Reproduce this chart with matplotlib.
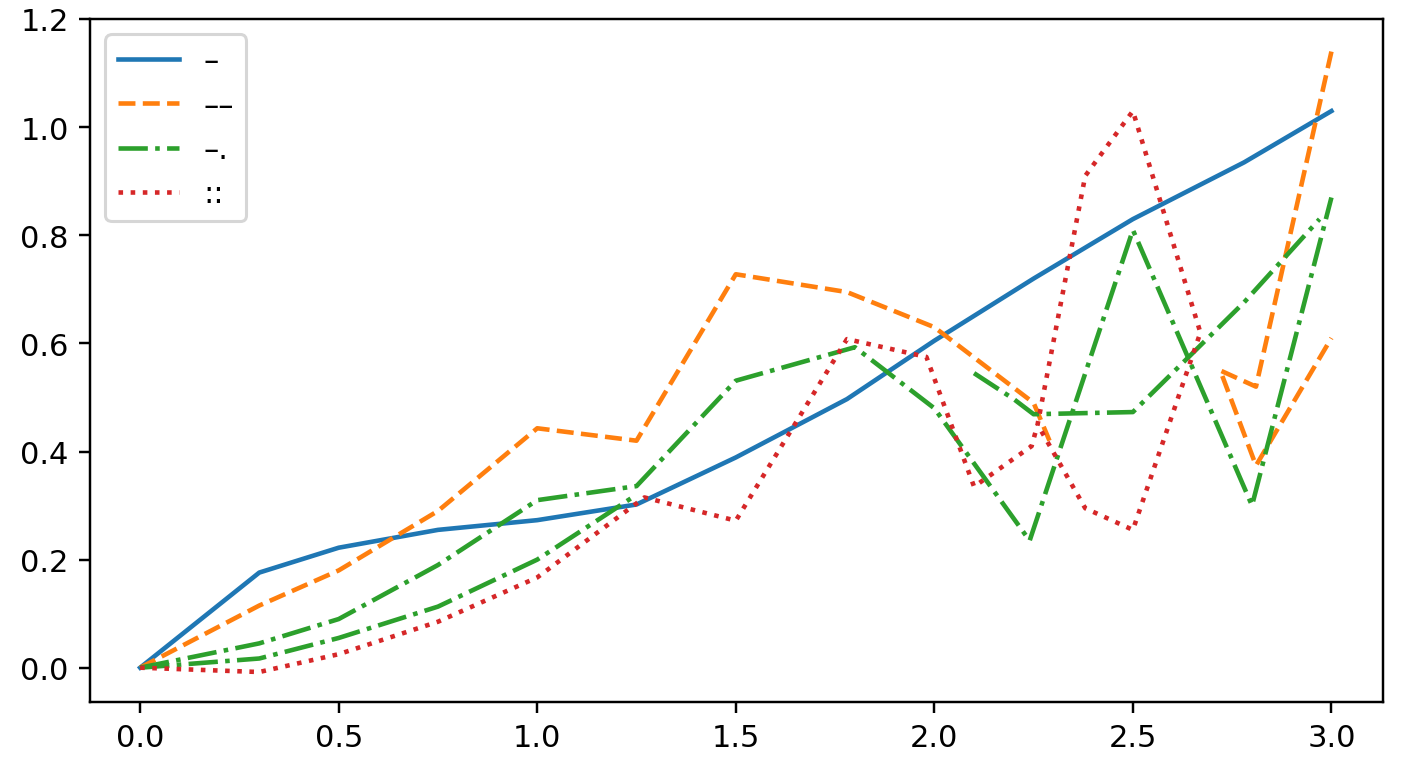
import numpy as np
import matplotlib
matplotlib.use('Agg')
import matplotlib.pyplot as plt

nan = np.nan

# solid line
x_solid = [0, 0.3, 0.5, 0.75, 1.0, 1.25, 1.5, 1.78, 2.0, 2.25, 2.5, 2.78, 3.0]
y_solid = [0, 0.176, 0.222, 0.255, 0.273, 0.302, 0.389, 0.497, 0.605, 0.72, 0.83, 0.935, 1.03]

# dashed line (breaks where nothing is drawn)
x_dash = [0, 0.3, 0.5, 0.75, 1.0, 1.25, 1.5, 1.78, 2.0, 2.25, 2.29, nan, 3.0, 2.81, 2.72, 2.81, 3.0]
y_dash = [0, 0.115, 0.18, 0.29, 0.443, 0.42, 0.728, 0.695, 0.63, 0.49, 0.42, nan, 1.14, 0.52, 0.55, 0.374, 0.61]

# dash-dot lines, two traces
x_dd1 = [0, 0.3, 0.5, 0.75, 1.0, 1.25, 1.5, 1.8, 2.0, 2.24, 2.5, 2.8, 3.0]
y_dd1 = [0, 0.045, 0.09, 0.19, 0.31, 0.336, 0.531, 0.593, 0.48, 0.235, 0.81, 0.30, 0.87]
x_dd2 = [0, 0.3, 0.5, 0.75, 1.0, 1.25, nan, 2.1, 2.2, 2.25, 2.5, 2.78, 2.97]
y_dd2 = [0, 0.017, 0.055, 0.113, 0.2, 0.32, nan, 0.545, 0.497, 0.469, 0.473, 0.676, 0.83]

# dotted line
x_dot = [0, 0.3, 0.5, 0.75, 1.0, 1.27, 1.5, 1.78, 1.98, 2.1, 2.245, 2.26, 2.38, 2.5, 2.67, 2.5, 2.38, 2.26]
y_dot = [0, -0.008, 0.025, 0.085, 0.167, 0.315, 0.272, 0.608, 0.575, 0.335, 0.41, 0.45, 0.91, 1.03, 0.62, 0.255, 0.295, 0.45]

labels = ['\u2013', '\u2013\u2013', '\u2013.', '::']

fig, ax = plt.subplots(figsize=(6.4, 3.49), dpi=220)
fig.subplots_adjust(left=0.064, right=0.982, bottom=0.085, top=0.974)

ax.plot(x_solid, y_solid, '-', color='C0', label=labels[0])
ax.plot(x_dash, y_dash, '--', color='C1', label=labels[1])
ax.plot(x_dd1, y_dd1, '-.', color='C2', label=labels[2])
ax.plot(x_dd2, y_dd2, '-.', color='C2')
ax.plot(x_dot, y_dot, ':', color='C3', label=labels[3])

ax.set_xlim(-0.126, 3.129)
ax.set_ylim(-0.063, 1.2)
ax.legend(loc='upper left')

plt.savefig('out.png')
